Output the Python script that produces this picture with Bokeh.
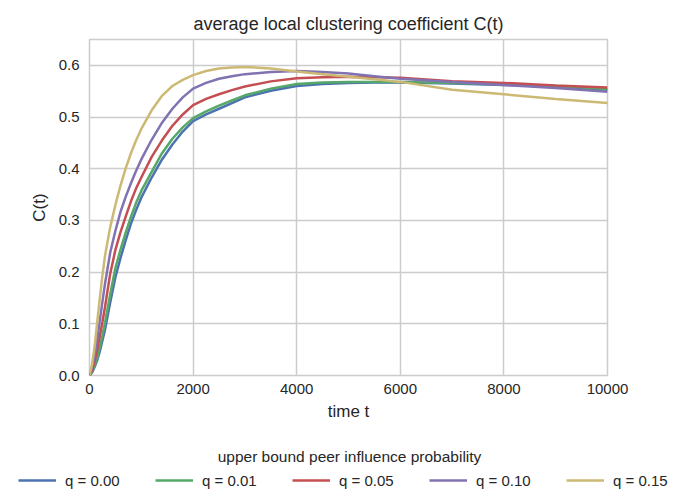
from bokeh.plotting import figure
from bokeh.layouts import column
from bokeh.models import Range1d, Legend, LegendItem, Label, FixedTicker, NumeralTickFormatter
from bokeh.embed import file_html
from bokeh.resources import INLINE

# ---- data ----
t_grid = [0, 50, 100, 150, 200, 250, 300, 400, 500, 600, 700, 800, 900, 1000, 1200, 1400, 1600,
          1800, 2000, 2250, 2500, 2750, 3000, 3500, 4000, 4500, 5000, 5500, 6000, 7000, 8000, 9000, 10000]

c_q000 = [0.0, 0.006, 0.017, 0.030, 0.047, 0.068, 0.089, 0.141, 0.190, 0.228, 0.262, 0.294, 0.320, 0.344,
          0.383, 0.418, 0.447, 0.472, 0.492, 0.505, 0.516, 0.527, 0.538, 0.551, 0.560, 0.564, 0.566, 0.567,
          0.567, 0.565, 0.562, 0.559, 0.553]
c_q001 = [0.0, 0.007, 0.020, 0.035, 0.055, 0.078, 0.102, 0.157, 0.208, 0.244, 0.277, 0.307, 0.334, 0.357,
          0.394, 0.430, 0.458, 0.480, 0.498, 0.511, 0.522, 0.532, 0.542, 0.555, 0.564, 0.567, 0.568, 0.568,
          0.568, 0.566, 0.563, 0.560, 0.554]
c_q005 = [0.0, 0.010, 0.028, 0.050, 0.077, 0.104, 0.133, 0.197, 0.243, 0.278, 0.308, 0.337, 0.362, 0.383,
          0.423, 0.455, 0.483, 0.505, 0.523, 0.535, 0.544, 0.552, 0.559, 0.569, 0.575, 0.577, 0.578, 0.577,
          0.576, 0.569, 0.566, 0.561, 0.557]
c_q010 = [0.0, 0.016, 0.040, 0.070, 0.107, 0.143, 0.178, 0.238, 0.280, 0.317, 0.346, 0.372, 0.396, 0.418,
          0.456, 0.489, 0.516, 0.538, 0.555, 0.566, 0.574, 0.579, 0.583, 0.587, 0.589, 0.587, 0.584, 0.579,
          0.574, 0.568, 0.562, 0.556, 0.549]
c_q015 = [0.0, 0.022, 0.057, 0.104, 0.150, 0.194, 0.232, 0.287, 0.330, 0.368, 0.401, 0.430, 0.455, 0.477,
          0.513, 0.541, 0.560, 0.572, 0.581, 0.589, 0.594, 0.596, 0.597, 0.594, 0.588, 0.583, 0.578, 0.573,
          0.568, 0.553, 0.544, 0.535, 0.527]

series_labels = ["q = 0.00", "q = 0.01", "q = 0.05", "q = 0.10", "q = 0.15"]
series_colors = ["#4C72B0", "#55A868", "#C44E52", "#8172B2", "#CCB974"]
x_ticks = [0, 2000, 4000, 6000, 8000, 10000]
y_ticks = [0.0, 0.1, 0.2, 0.3, 0.4, 0.5, 0.6]
legend_title = "upper bound peer influence probability"

FONT = "Liberation Sans"
TXT = "#262626"
GRID = "#cccccc"

# ---- main chart ----
p = figure(width=689, height=430, output_backend="svg", toolbar_location=None,
           x_range=Range1d(0, 10000), y_range=Range1d(0, 0.65),
           min_border_left=89, min_border_right=82, min_border_top=39, min_border_bottom=55)
p.frame_align = False
p.background_fill_color = "white"
p.border_fill_color = "white"
p.outline_line_color = GRID
p.outline_line_width = 1.5

p.title.text = "average local clustering coefficient C(t)"
p.title.text_font = FONT
p.title.text_font_size = "18px"
p.title.text_font_style = "normal"
p.title.text_color = TXT
p.title.align = "center"
p.title.standoff = 11

for ax in (p.xaxis[0], p.yaxis[0]):
    ax.axis_line_color = None
    ax.major_tick_line_color = None
    ax.minor_tick_line_color = None
    ax.major_tick_out = 0
    ax.major_tick_in = 0
    ax.major_label_text_font = FONT
    ax.major_label_text_font_size = "15px"
    ax.major_label_text_color = TXT
    ax.axis_label_text_font = FONT
    ax.axis_label_text_font_size = "17px"
    ax.axis_label_text_font_style = "normal"
    ax.axis_label_text_color = TXT

p.xaxis.ticker = FixedTicker(ticks=x_ticks)
p.yaxis.ticker = FixedTicker(ticks=y_ticks)
p.yaxis.formatter = NumeralTickFormatter(format="0.0")
p.xaxis.major_label_standoff = 8
p.yaxis.major_label_standoff = 10
p.xaxis.axis_label = "time t"
p.yaxis.axis_label = "C(t)"
p.xaxis.axis_label_standoff = 5
p.yaxis.axis_label_standoff = 7

p.xgrid.grid_line_color = GRID
p.ygrid.grid_line_color = GRID
p.xgrid.grid_line_width = 1.5
p.ygrid.grid_line_width = 1.5

cs = [c_q000, c_q001, c_q005, c_q010, c_q015]
for c, col in zip(cs, series_colors):
    p.line(t_grid, c, line_color=col, line_width=2.5)

# ---- legend strip below (full-width frame) ----
p2 = figure(width=689, height=74, output_backend="svg", toolbar_location=None,
            x_range=Range1d(0, 689), y_range=Range1d(0, 74),
            x_axis_location=None, y_axis_location=None,
            min_border_left=0, min_border_right=0, min_border_top=0, min_border_bottom=0)
p2.frame_align = False
p2.grid.visible = False
p2.outline_line_color = None
p2.background_fill_color = "white"
p2.border_fill_color = "white"
# legend proxies: same series on a hidden range so only their legend glyphs show
p2.extra_x_ranges = {"hidden": Range1d(0, 10000)}
p2.extra_y_ranges = {"hidden": Range1d(10, 11)}

items = []
for c, lab, col in zip(cs, series_labels, series_colors):
    r = p2.line(t_grid, c, line_color=col, line_width=2.5,
                x_range_name="hidden", y_range_name="hidden")
    items.append(LegendItem(label=lab, renderers=[r]))

p2.add_layout(Label(x=349, y=48, text=legend_title, text_align="center",
                    text_baseline="middle", text_font=FONT, text_font_size="15.5px",
                    text_color=TXT))

legend = Legend(items=items, orientation="horizontal", location=(18, 14),
                label_text_font=FONT, label_text_font_size="15px", label_text_color=TXT,
                glyph_width=38, glyph_height=20, label_standoff=9, label_width=60,
                spacing=30, padding=2, margin=0,
                border_line_color=None, background_fill_alpha=0)
p2.add_layout(legend, "center")

layout = column(p, p2, spacing=0)
open("out.html", "w").write(file_html(layout, INLINE))
